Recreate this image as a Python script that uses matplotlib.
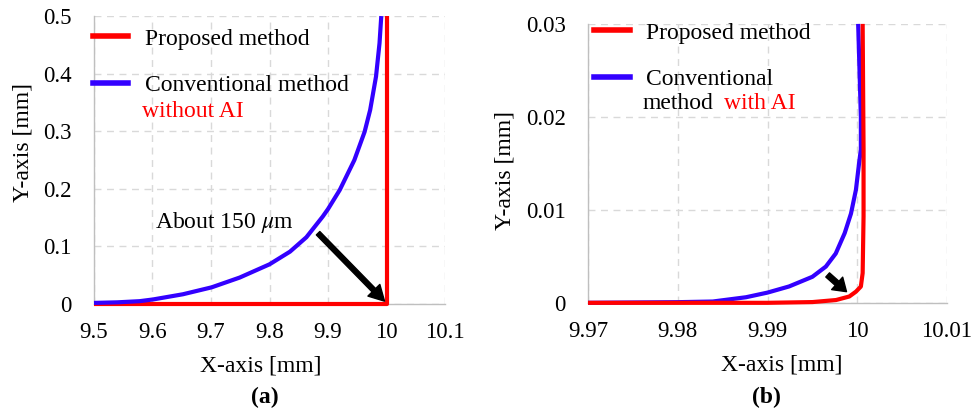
import matplotlib.pyplot as plt
from matplotlib.lines import Line2D

plt.rcParams['font.family'] = ['Liberation Serif', 'DejaVu Serif']
plt.rcParams['mathtext.fontset'] = 'stix'

RED = '#ff0000'
BLUE = '#3300ff'
GRID = '#d9d9d9'
SPINE = '#bfbfbf'

# --- (a) without AI ---
a_prop_x = [9.5, 10.0, 10.0]
a_prop_y = [0.0, 0.0, 0.5]
a_conv_x = [9.5, 9.54, 9.578, 9.601, 9.652, 9.701, 9.749, 9.800, 9.835, 9.863,
            9.891, 9.9, 9.92, 9.945, 9.9625, 9.972, 9.982, 9.988, 9.991]
a_conv_y = [0.002, 0.003, 0.005, 0.008, 0.017, 0.029, 0.046, 0.069, 0.091, 0.116,
            0.152, 0.165, 0.198, 0.25, 0.299, 0.337, 0.395, 0.453, 0.5]
a_xticks = [9.5, 9.6, 9.7, 9.8, 9.9, 10.0, 10.1]
a_xticklabels = ['9.5', '9.6', '9.7', '9.8', '9.9', '10', '10.1']
a_yticks = [0, 0.1, 0.2, 0.3, 0.4, 0.5]
a_yticklabels = ['0', '0.1', '0.2', '0.3', '0.4', '0.5']

# --- (b) with AI ---
b_prop_x = [9.97, 9.99, 9.995, 9.99763, 9.99911, 9.99985, 10.0004, 10.0006,
            10.0007, 10.0007, 10.0006]
b_prop_y = [0.0, 0.0, 0.00008, 0.0003, 0.00068, 0.0012, 0.00175, 0.0032,
            0.0093, 0.0165, 0.03]
b_conv_x = [9.97, 9.98, 9.9839, 9.9876, 9.99, 9.9924, 9.995, 9.9965, 9.9976,
            9.9986, 9.9993, 9.99985, 10.0002, 10.0004, 10.0004, 10.0001]
b_conv_y = [0.0, 0.00007, 0.00014, 0.0006, 0.0011, 0.00176, 0.0028, 0.0039, 0.0053,
            0.0075, 0.0096, 0.01215, 0.015, 0.0165, 0.02, 0.03]
b_xticks = [9.97, 9.98, 9.99, 10.0, 10.01]
b_xticklabels = ['9.97', '9.98', '9.99', '10', '10.01']
b_yticks = [0, 0.01, 0.02, 0.03]
b_yticklabels = ['0', '0.01', '0.02', '0.03']


def style_axes(ax, xticks, xlabels, yticks, ylabels):
    ax.set_xticks(xticks)
    ax.set_xticklabels(xlabels)
    ax.set_yticks(yticks)
    ax.set_yticklabels(ylabels)
    ax.set_xlim(xticks[0], xticks[-1])
    ax.set_ylim(yticks[0], yticks[-1])
    ax.grid(True, color=GRID, linestyle=(0, (5, 4)), linewidth=1.0)
    ax.set_axisbelow(True)
    for s in ['top', 'right']:
        ax.spines[s].set_visible(False)
    for s in ['left', 'bottom']:
        ax.spines[s].set_color(SPINE)
        ax.spines[s].set_linewidth(1.0)
    ax.tick_params(length=0, labelsize=16.5)
    ax.tick_params(axis='y', pad=16)
    ax.tick_params(axis='x', pad=13)


fig = plt.figure(figsize=(9.76, 4.12), dpi=100)
ax1 = fig.add_axes([0.0963, 0.262, 0.3597, 0.699])
ax2 = fig.add_axes([0.6025, 0.265, 0.3678, 0.677])

# (a)
style_axes(ax1, a_xticks, a_xticklabels, a_yticks, a_yticklabels)
ax1.plot(a_prop_x, a_prop_y, color=RED, lw=3, clip_on=False, zorder=3,
         solid_capstyle='butt', solid_joinstyle='round')
ax1.plot(a_conv_x, a_conv_y, color=BLUE, lw=3, clip_on=False, zorder=4,
         solid_capstyle='butt', solid_joinstyle='round')
ax1.annotate('', xy=(9.9966, 0.005), xytext=(9.883, 0.123),
             arrowprops=dict(facecolor='black', edgecolor='black',
                             width=3.5, headwidth=12, headlength=11, shrink=0))
ax1.text(9.604, 0.142, 'About 150 $\\mu$m', fontsize=17, va='center', ha='left')
ax1.set_xlabel('X-axis [mm]', fontsize=17)
ax1.xaxis.set_label_coords(0.474, -0.18)
ax1.set_ylabel('Y-axis [mm]', fontsize=17)
ax1.yaxis.set_label_coords(-0.172, 0.562)

h = [Line2D([], [], color=RED, lw=4), Line2D([], [], color=BLUE, lw=4)]
ax1.legend(h, ['Proposed method', 'Conventional method'], loc='upper left',
           bbox_to_anchor=(-0.003, 0.958), frameon=False, fontsize=17,
           handlelength=1.5, handletextpad=0.7, labelspacing=1.06,
           borderpad=0, borderaxespad=0)
ax1.text(0.137, 0.670, 'without AI', color=RED, fontsize=17,
         transform=ax1.transAxes, va='center', ha='left')

# (b)
style_axes(ax2, b_xticks, b_xticklabels, b_yticks, b_yticklabels)
ax2.plot(b_conv_x, b_conv_y, color=BLUE, lw=3, clip_on=False, zorder=3,
         solid_capstyle='butt', solid_joinstyle='round')
ax2.plot(b_prop_x, b_prop_y, color=RED, lw=3, clip_on=False, zorder=4,
         solid_capstyle='butt', solid_joinstyle='round')
ax2.annotate('', xy=(9.9988, 0.0012), xytext=(9.9967, 0.003),
             arrowprops=dict(facecolor='black', edgecolor='black',
                             width=4, headwidth=12, headlength=9, shrink=0))
ax2.set_xlabel('X-axis [mm]', fontsize=17)
ax2.xaxis.set_label_coords(0.539, -0.186)
ax2.set_ylabel('Y-axis [mm]', fontsize=17)
ax2.yaxis.set_label_coords(-0.203, 0.474)

ax2.legend(h, ['Proposed method', 'Conventional'], loc='upper left',
           bbox_to_anchor=(0.017, 1.006), frameon=False, fontsize=17,
           handlelength=1.5, handletextpad=0.7, labelspacing=1.06,
           borderpad=0, borderaxespad=0)
ax2.text(0.153, 0.713, 'method', color='black', fontsize=17,
         transform=ax2.transAxes, va='center', ha='left')
ax2.text(0.379, 0.713, 'with AI', color=RED, fontsize=17,
         transform=ax2.transAxes, va='center', ha='left')

fig.text(265 / 976, 1 - 397 / 412, '(a)', fontsize=17, fontweight='bold',
         ha='center', va='center')
fig.text(766 / 976, 1 - 397 / 412, '(b)', fontsize=17, fontweight='bold',
         ha='center', va='center')

fig.savefig('out.png', dpi=100)
